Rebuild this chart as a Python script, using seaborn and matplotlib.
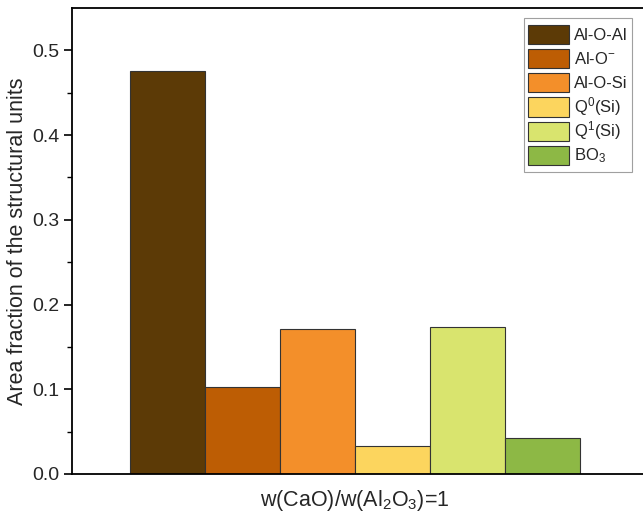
import matplotlib
matplotlib.use("Agg")
import matplotlib.pyplot as plt
import seaborn as sns
import pandas as pd
from matplotlib.patches import Rectangle
from matplotlib.legend_handler import HandlerPatch

# Data
group = ["w(CaO)/w(Al$_2$O$_3$)=1"]
units = ["Al-O-Al", "Al-O$^{-}$", "Al-O-Si", "Q$^{0}$(Si)", "Q$^{1}$(Si)", "BO$_{3}$"]
values = [0.476, 0.103, 0.171, 0.033, 0.173, 0.043]
colors = ["#5C3A06", "#BD5D04", "#F38F2A", "#FCD55E", "#D9E46E", "#8DB845"]

sns.set_style("white")
plt.rcParams["font.family"] = ["Liberation Sans", "DejaVu Sans"]
plt.rcParams["mathtext.default"] = "regular"

df = pd.DataFrame({"group": group * len(units), "unit": units, "value": values})

fig = plt.figure(figsize=(6.43, 5.2), dpi=100)
W, H = 643, 520
ax = fig.add_axes([72 / W, (H - 474) / H, (643 - 72) / W, (474 - 8) / H])

sns.barplot(data=df, x="group", y="value", hue="unit", hue_order=units,
            palette=colors, width=0.8, dodge=True, ax=ax,
            edgecolor="#333333", linewidth=0.8, saturation=1, errorbar=None)

ax.set_xlim(-0.503, 0.512)
ax.set_ylim(0, 0.55)
ax.set_yticks([0.0, 0.1, 0.2, 0.3, 0.4, 0.5])
ax.set_yticks([0.05, 0.15, 0.25, 0.35, 0.45], minor=True)
ax.set_yticklabels(["0.0", "0.1", "0.2", "0.3", "0.4", "0.5"])
ax.tick_params(axis="y", which="major", direction="out", length=6, width=1.2,
               labelsize=14, left=True, color="black", pad=3)
ax.tick_params(axis="y", which="minor", direction="out", length=3.5, width=1.0,
               left=True, color="black")
ax.tick_params(axis="x", length=0, labelsize=15.5, pad=10)
ax.set_xlabel("")
ax.set_ylabel("Area fraction of the structural units", fontsize=15.5, labelpad=3)

for s in ["left", "bottom", "top"]:
    ax.spines[s].set_visible(True)
    ax.spines[s].set_color("black")
    ax.spines[s].set_linewidth(1.3)
ax.spines["right"].set_visible(False)


def inset_rect(legend, orig_handle, xdescent, ydescent, width, height, fontsize):
    pad = height * 0.1
    return Rectangle((-xdescent, -ydescent + pad), width, height - 2 * pad)


leg = ax.legend(loc="upper right", bbox_to_anchor=(632 / W, (H - 18) / H),
                bbox_transform=fig.transFigure, borderaxespad=0,
                fontsize=12, frameon=True, fancybox=False,
                handlelength=2.45, handleheight=1.86, labelspacing=0.0,
                handletextpad=0.3, borderpad=0.25, title=None,
                handler_map={Rectangle: HandlerPatch(patch_func=inset_rect)})
leg.get_frame().set_edgecolor("#888888")
leg.get_frame().set_linewidth(0.8)

fig.savefig("out.png", dpi=100)
